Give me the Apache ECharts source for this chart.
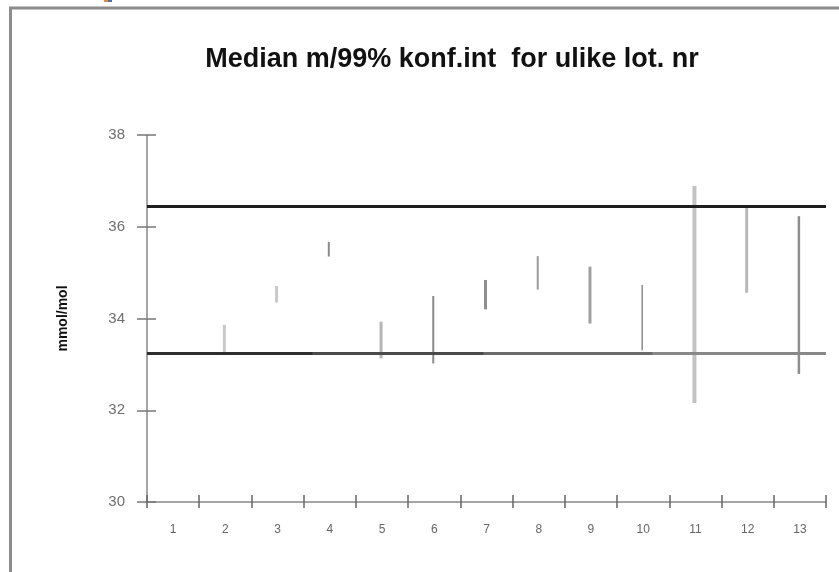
<!DOCTYPE html>
<html>
<head>
<meta charset="utf-8">
<script src="https://cdn.jsdelivr.net/npm/echarts@6/dist/echarts.min.js"></script>
<style>
html,body{margin:0;padding:0;background:#fff;}
#chart{width:839px;height:572px;}
</style>
</head>
<body>
<div id="chart"></div>
<script>
// ---- data ----
var categories = ['1','2','3','4','5','6','7','8','9','10','11','12','13'];
var lowValues  = [null, 33.20, 34.35, 35.35, 33.13, 33.02, 34.20, 34.63, 33.89, 33.31, 32.16, 34.56, 32.79];
var highValues = [null, 33.86, 34.71, 35.67, 33.93, 34.49, 34.84, 35.36, 35.13, 34.73, 36.89, 36.42, 36.23];
var upperLimit = 36.44;
var lowerLimit = 33.24;
var yTicks = [30, 32, 34, 36, 38];
var titleText = 'Median m/99% konf.int  for ulike lot. nr';
var yAxisName = 'mmol/mol';

// ---- styles (per interval) ----
var barStyles = [
  null,
  {c:'#c9c9c9', w:3}, {c:'#c9c9c9', w:3}, {c:'#8a8a8a', w:2}, {c:'#b5b5b5', w:3},
  {c:'#8a8a8a', w:2}, {c:'#8e8e8e', w:3}, {c:'#9a9a9a', w:2}, {c:'#a0a0a0', w:3},
  {c:'#8a8a8a', w:1.5}, {c:'#c2c2c2', w:4}, {c:'#b9b9b9', w:3}, {c:'#8e8e8e', w:2.5}
];

var seriesData = categories.map(function (c, i) {
  return [i, lowValues[i], highValues[i]];
}).filter(function (d) { return d[1] != null; });

var chart = echarts.init(document.getElementById('chart'), null, {renderer: 'canvas'});
var option = {
  animation: false,
  backgroundColor: '#fff',
  title: {
    text: titleText,
    left: 447, top: 41, textAlign: 'center',
    textStyle: {fontFamily: 'Liberation Sans', fontWeight: 'bold', fontSize: 27, color: '#111'}
  },
  grid: {left: 147, right: 13, top: 135, bottom: 70, containLabel: false},
  xAxis: [{
    type: 'category', data: categories, boundaryGap: true,
    axisLine: {show: true, lineStyle: {color: '#888', width: 1.5}},
    axisTick: {show: true, interval: 0, length: 6, lineStyle: {color: '#666', width: 1.5}},
    axisLabel: {color: '#666', fontSize: 12, fontFamily: 'Liberation Sans', margin: 22, interval: 0},
    splitLine: {show: false}
  }, {
    type: 'category', data: categories, boundaryGap: true, position: 'bottom',
    axisLine: {show: false},
    axisTick: {show: true, inside: true, interval: 0, length: 7, lineStyle: {color: '#666', width: 1.5}},
    axisLabel: {show: false}, splitLine: {show: false}
  }],
  yAxis: [{
    type: 'value', min: yTicks[0], max: yTicks[yTicks.length - 1], interval: 2,
    axisLine: {show: true, lineStyle: {color: '#888', width: 1.5}},
    axisTick: {show: true, length: 10, lineStyle: {color: '#777', width: 1.5}},
    axisLabel: {color: '#6e6e6e', fontSize: 15, fontFamily: 'Liberation Sans', margin: 22},
    splitLine: {show: false},
    name: yAxisName, nameLocation: 'middle', nameRotate: 90, nameGap: 77,
    nameTextStyle: {fontFamily: 'Liberation Sans', fontWeight: 'bold', fontSize: 14, color: '#111'}
  }, {
    type: 'value', min: yTicks[0], max: yTicks[yTicks.length - 1], interval: 2, position: 'left',
    axisLine: {show: false},
    axisTick: {show: true, inside: true, length: 9, lineStyle: {color: '#777', width: 1.5}},
    axisLabel: {show: false}, splitLine: {show: false}
  }],
  series: [{
    type: 'custom',
    xAxisIndex: 0, yAxisIndex: 0,
    data: seriesData,
    renderItem: function (params, api) {
      var idx = api.value(0);
      var top = api.coord([idx, api.value(2)]);
      var bot = api.coord([idx, api.value(1)]);
      var st = barStyles[idx];
      return {
        type: 'rect',
        shape: {x: top[0] - st.w / 2 - 1, y: top[1], width: st.w, height: bot[1] - top[1]},
        style: {fill: st.c}
      };
    },
    markLine: {
      silent: true, symbol: 'none', label: {show: false},
      data: [
        {yAxis: upperLimit, lineStyle: {color: '#1e1e1e', width: 3, type: 'solid'}},
        {yAxis: lowerLimit, lineStyle: {width: 3, type: 'solid',
          color: {type: 'linear', x: 0, y: 0, x2: 1, y2: 0, colorStops: [
            {offset: 0, color: '#2e2e2e'}, {offset: 0.245, color: '#2e2e2e'},
            {offset: 0.246, color: '#4a4a4a'}, {offset: 0.495, color: '#4a4a4a'},
            {offset: 0.496, color: '#6a6a6a'}, {offset: 0.742, color: '#6a6a6a'},
            {offset: 0.743, color: '#888888'}, {offset: 1, color: '#888888'}
          ]}}}
      ]
    }
  }],
  graphic: [
    {type: 'line', shape: {x1: 9, y1: 8, x2: 839, y2: 8}, style: {stroke: '#8c8c8c', lineWidth: 3}},
    {type: 'line', shape: {x1: 10.5, y1: 7, x2: 10.5, y2: 572}, style: {stroke: '#8c8c8c', lineWidth: 3}},
    {type: 'rect', shape: {x: 104, y: 0, width: 4, height: 2}, style: {fill: '#e08a3c'}},
    {type: 'rect', shape: {x: 108, y: 0, width: 4, height: 2}, style: {fill: '#4a6fb5'}}
  ]
};
chart.setOption(option);
</script>
</body>
</html>
